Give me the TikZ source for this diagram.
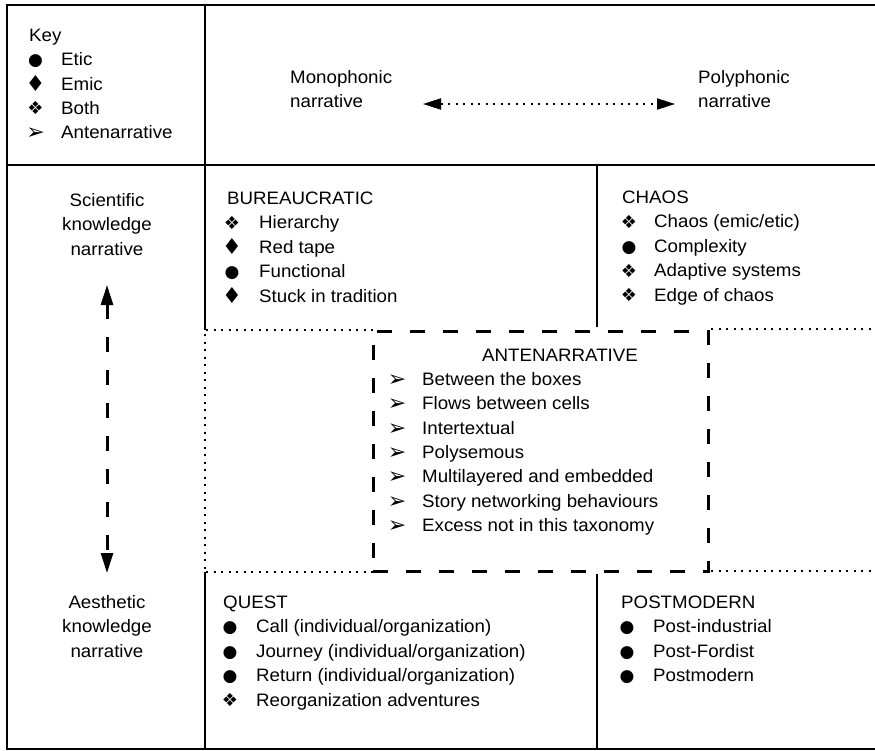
\documentclass[tikz,border=0pt]{standalone}
\usepackage{fontspec}
\setmainfont{Liberation Sans}[FakeStretch=1.04]
\newfontfamily\symf{DejaVu Sans}
\usetikzlibrary{arrows.meta}
\newcommand\litem[6]{\node[sym] (#1s) at (#2,#4) {#5};\node[txt] (#1) at (#3,#4) {#6};}
\newcommand\Etic{\fontsize{17}{17}\selectfont ●}
\newcommand\Emic{\raisebox{-1.5pt}{\fontsize{22}{22}\selectfont ♦}}
\newcommand\Both{\raisebox{-0.5pt}{\fontsize{18}{18}\selectfont ❖}}
\newcommand\Ante{\raisebox{-1pt}{\fontsize{22}{22}\selectfont ➢}}
\begin{document}
\begin{tikzpicture}[x=1pt,y=-1pt,
  txt/.style={inner sep=0pt, anchor=base west, font=\fontsize{18}{24.5}\selectfont},
  ctxt/.style={inner sep=0pt, anchor=base, font=\fontsize{18}{24.5}\selectfont},
  sym/.style={inner sep=0pt, anchor=base, font=\symf},
  frame/.style={line width=2.6pt},
  dotline/.style={line width=2pt, dash pattern=on 2pt off 5.5pt},
  dashline/.style={line width=3pt, dash pattern=on 15pt off 18pt},
  vaxis/.style={dashline, {Triangle[length=20pt,width=12pt]}-{Triangle[length=20pt,width=12pt]}},
  haxis/.style={dotline, {Triangle[length=18pt,width=11pt]}-{Triangle[length=18pt,width=11pt]}},
]
\useasboundingbox[fill=white] (0,0) rectangle (875,750);
% frame lines
\draw[frame] (7,4) -- (7,749);
\draw[frame] (6,5) -- (875,5);
\draw[line width=2pt] (6,748.5) -- (875,748.5);
\draw[frame] (7,165) -- (875,165);
\draw[frame] (205,5) -- (205,330);
\draw[frame] (597,165) -- (597,327);
\draw[frame] (205,572) -- (205,749);
\draw[frame] (597,574) -- (597,749);
% dotted lines
\draw[dotline] (206,330) -- (373,330);
\draw[dotline] (205,334) -- (205,570);
\draw[dotline] (206,572) -- (373,572);
\draw[dotline] (711,329) -- (875,329);
\draw[dotline] (711,571) -- (875,571);
% antenarrative box
\node[draw, dashline, minimum width=335, minimum height=240, inner sep=0pt] (antbox) at (540.5,451) {};
% key
\node[txt] (key) at (29,41) {Key};
\litem{k1}{35.5}{61}{65.5}{\Etic}{Etic}
\litem{k2}{35.5}{61}{90}{\Emic}{Emic}
\litem{k3}{35.5}{61}{114}{\Both}{Both}
\litem{k4}{35.5}{61}{138}{\Ante}{Antenarrative}
% top axis
\node[txt] (mono) at (290,83) {\begin{tabular}[t]{@{}l@{}}Monophonic\\narrative\end{tabular}};
\node[txt] (poly) at (698,83) {\begin{tabular}[t]{@{}l@{}}Polyphonic\\narrative\end{tabular}};
\coordinate (hl) at (423,104);
\coordinate (hr) at (675,104);
\draw[haxis] (hl) -- (hr);
% left axis
\node[ctxt] (sci) at (107,206) {\begin{tabular}[t]{@{}c@{}}Scientific\\knowledge\\narrative\end{tabular}};
\node[ctxt] (aes) at (107,608) {\begin{tabular}[t]{@{}c@{}}Aesthetic\\knowledge\\narrative\end{tabular}};
\coordinate (vt) at (107,285);
\coordinate (vb) at (107,573);
\draw[vaxis] (vt) -- (vb);
% bureaucratic
\node[txt] (bur) at (227,204) {BUREAUCRATIC};
\litem{b1}{232}{259}{228.5}{\Both}{Hierarchy}
\litem{b2}{232}{259}{253}{\Emic}{Red tape}
\litem{b3}{232}{259}{277.5}{\Etic}{Functional}
\litem{b4}{232}{259}{302}{\Emic}{Stuck in tradition}
% chaos
\node[txt] (chaos) at (622,203) {CHAOS};
\litem{c1}{629}{654}{227.5}{\Both}{Chaos (emic/etic)}
\litem{c2}{629}{654}{252}{\Etic}{Complexity}
\litem{c3}{629}{654}{276.5}{\Both}{Adaptive systems}
\litem{c4}{629}{654}{301}{\Both}{Edge of chaos}
% antenarrative
\node[txt] (ant) at (482,361) {ANTENARRATIVE};
\litem{a1}{397}{422}{385.5}{\Ante}{Between the boxes}
\litem{a2}{397}{422}{409.8}{\Ante}{Flows between cells}
\litem{a3}{397}{422}{434.1}{\Ante}{Intertextual}
\litem{a4}{397}{422}{458.4}{\Ante}{Polysemous}
\litem{a5}{397}{422}{482.7}{\Ante}{Multilayered and embedded}
\litem{a6}{397}{422}{507}{\Ante}{Story networking behaviours}
\litem{a7}{397}{422}{531.3}{\Ante}{Excess not in this taxonomy}
% quest
\node[txt] (quest) at (223,608) {QUEST};
\litem{q1}{230}{256}{632.5}{\Etic}{Call (individual/organization)}
\litem{q2}{230}{256}{657}{\Etic}{Journey (individual/organization)}
\litem{q3}{230}{256}{681.5}{\Etic}{Return (individual/organization)}
\litem{q4}{230}{256}{706}{\Both}{Reorganization adventures}
% postmodern
\node[txt] (post) at (621,608) {POSTMODERN};
\litem{p1}{627}{653}{632.5}{\Etic}{Post-industrial}
\litem{p2}{627}{653}{657}{\Etic}{Post-Fordist}
\litem{p3}{627}{653}{681.5}{\Etic}{Postmodern}
\end{tikzpicture}
\end{document}
